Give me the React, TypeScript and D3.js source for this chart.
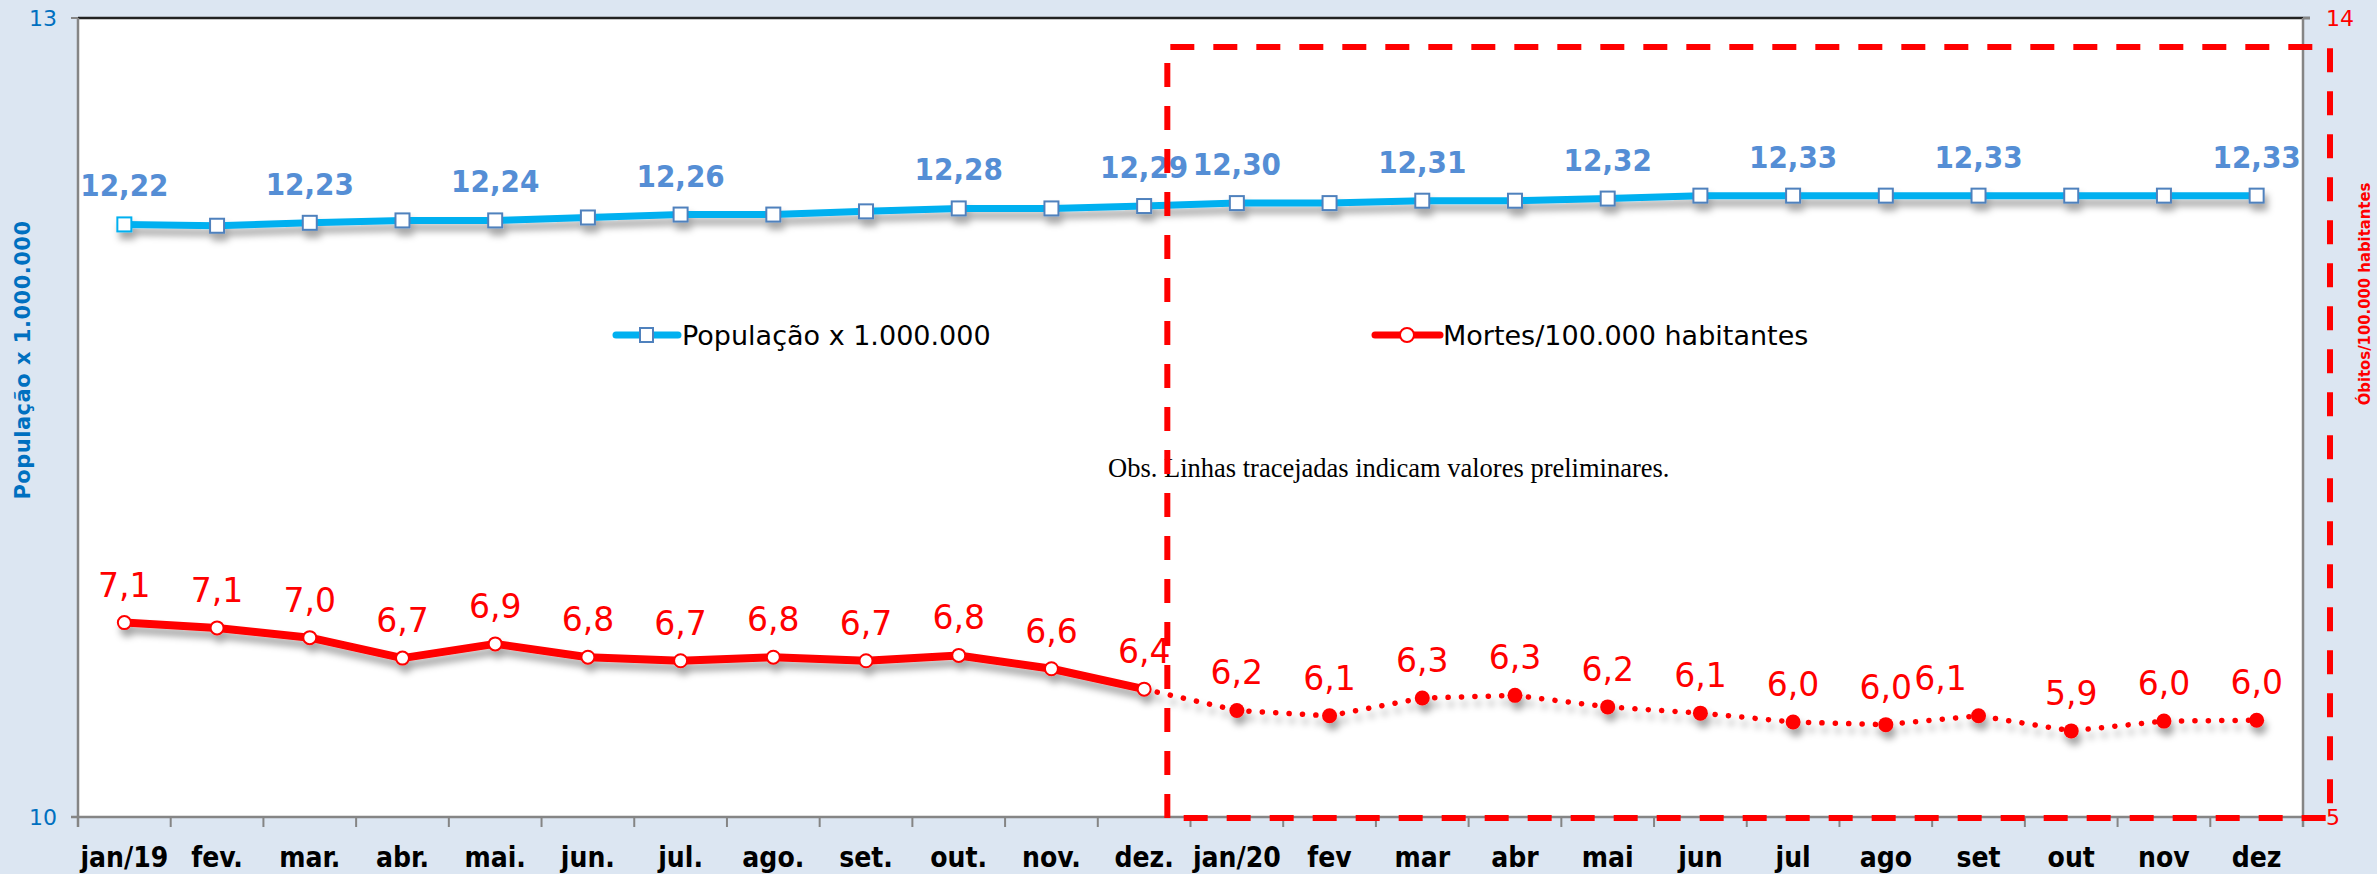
import React from 'react';
import * as d3 from 'd3';

const W = 2377;
const H = 874;

// categories (2019 with dots, 2020 without, as in the source)
const months = [
	'jan/19', 'fev.', 'mar.', 'abr.', 'mai.', 'jun.', 'jul.', 'ago.', 'set.', 'out.', 'nov.', 'dez.',
	'jan/20', 'fev', 'mar', 'abr', 'mai', 'jun', 'jul', 'ago', 'set', 'out', 'nov', 'dez',
];

// População x 1.000.000 (left axis)
const population = [
	12.225, 12.22, 12.231, 12.24, 12.24, 12.251, 12.262, 12.262, 12.274, 12.285, 12.285, 12.294,
	12.305, 12.305, 12.314, 12.314, 12.322, 12.333, 12.333, 12.333, 12.333, 12.333, 12.333, 12.333,
];
const populationLabels: (string | null)[] = [
	'12,22', null, '12,23', null, '12,24', null, '12,26', null, null, '12,28', null, '12,29',
	'12,30', null, '12,31', null, '12,32', null, '12,33', null, '12,33', null, null, '12,33',
];

// Mortes/100.000 habitantes (right axis)
const deaths = [
	7.19, 7.13, 7.02, 6.79, 6.95, 6.8, 6.76, 6.8, 6.76, 6.82, 6.67, 6.44,
	6.2, 6.14, 6.34, 6.37, 6.24, 6.17, 6.07, 6.04, 6.14, 5.97, 6.08, 6.09,
];
const deathLabels = [
	'7,1', '7,1', '7,0', '6,7', '6,9', '6,8', '6,7', '6,8', '6,7', '6,8', '6,6', '6,4',
	'6,2', '6,1', '6,3', '6,3', '6,2', '6,1', '6,0', '6,0', '6,1', '5,9', '6,0', '6,0',
];
// last finished month; after it the values are preliminary
const lastFinal = 11;

const leftTicks = [10, 13];
const rightTicks = [5, 14];

const bgBlue = '#dce6f2';
const cyan = '#00b0f0';
const markBlue = '#4f81bd';
const labelBlue = '#558ed5';
const axisBlue = '#0070c0';
const red = '#ff0000';
const grey = '#858585';

const condensed = '"DejaVu Sans Condensed", "DejaVu Sans", sans-serif';
const sans = '"DejaVu Sans", Verdana, sans-serif';

const App: React.FC = () => {
	const margin = { top: 18, right: 74, bottom: 57, left: 78 };
	const innerW = W - margin.left - margin.right;
	const plotBottom = H - margin.bottom;
	const plotRight = margin.left + innerW;

	const x = d3.scalePoint<string>().domain(months).range([margin.left, plotRight]).padding(0.5);
	const step = x.step();
	const yL = d3.scaleLinear().domain([10, 13]).range([plotBottom, margin.top]);
	const yR = d3.scaleLinear().domain([5, 14]).range([plotBottom, margin.top]);

	const popLine = d3
		.line<number>()
		.x((d, i) => x(months[i]) as number)
		.y((d) => yL(d));

	const deathLine = d3
		.line<[string, number]>()
		.x((d) => x(d[0]) as number)
		.y((d) => yR(d[1]));

	const pairs: [string, number][] = months.map((m, i) => [m, deaths[i]]);
	const solidPart = pairs.slice(0, lastFinal + 1);
	const dottedPart = pairs.slice(lastFinal);

	// label tweaks where Excel nudged a label sideways
	const labelShift: Record<string, number> = { set: -38 };

	// dashed box marking preliminary values
	const boxLeft = (x('dez.') as number) + step / 4;
	const boxTop = margin.top + 29;
	const boxRight = plotRight + 27;
	const boxBottom = plotBottom + 1;

	const bandEdges = d3.range(months.length + 1).map((i) => margin.left + i * step);

	return (
		<svg width={W} height={H} style={{ position: 'absolute', left: 0, top: 0 }}>
			<defs>
				<filter id="shadow" x="-5%" y="-20%" width="110%" height="160%">
					<feDropShadow dx="3" dy="7" stdDeviation="3.5" floodColor="#000" floodOpacity="0.35" />
				</filter>
			</defs>
			<rect x={0} y={0} width={W} height={H} fill={bgBlue} />
			<rect x={margin.left} y={margin.top} width={innerW} height={plotBottom - margin.top} fill="#fff" />

			{/* axes */}
			<line x1={margin.left} x2={plotRight + 7} y1={margin.top} y2={margin.top} stroke="#222" strokeWidth={2.5} />
			<line x1={margin.left} x2={margin.left} y1={margin.top} y2={plotBottom + 10} stroke={grey} strokeWidth={2.5} />
			<line x1={plotRight} x2={plotRight} y1={margin.top} y2={plotBottom + 10} stroke={grey} strokeWidth={2.5} />
			<line x1={margin.left - 7} x2={plotRight + 7} y1={plotBottom} y2={plotBottom} stroke={grey} strokeWidth={2.5} />
			{bandEdges.map((bx, i) => (
				<line key={'t' + i} x1={bx} x2={bx} y1={plotBottom} y2={plotBottom + 10} stroke={grey} strokeWidth={2} />
			))}
			{leftTicks.map((t) => (
				<g key={'l' + t}>
					<line x1={margin.left - 7} x2={margin.left} y1={yL(t)} y2={yL(t)} stroke={grey} strokeWidth={2} />
					<text x={57} y={yL(t) + 8} textAnchor="end" fontFamily={sans} fontSize={22} fill={axisBlue}>
						{t}
					</text>
				</g>
			))}
			{rightTicks.map((t) => (
				<g key={'r' + t}>
					<line x1={plotRight} x2={plotRight + 7} y1={yR(t)} y2={yR(t)} stroke={grey} strokeWidth={2} />
					<text x={2326} y={yR(t) + 8} textAnchor="start" fontFamily={sans} fontSize={22} fill={red}>
						{t}
					</text>
				</g>
			))}
			{months.map((m) => (
				<text
					key={'x' + m}
					x={x(m)}
					y={867}
					textAnchor="middle"
					fontFamily={condensed}
					fontStretch="condensed"
					fontWeight="bold"
					fontSize={28}
					fill="#000"
				>
					{m}
				</text>
			))}
			<text
				transform={`translate(30,360) rotate(-90)`}
				textAnchor="middle"
				fontFamily={sans}
				fontWeight="bold"
				fontSize={21}
				letterSpacing={0.5}
				fill={axisBlue}
			>
				População x 1.000.000
			</text>
			<text
				transform={`translate(2370,294) rotate(-90)`}
				textAnchor="middle"
				fontFamily={condensed}
				fontStretch="condensed"
				fontWeight="bold"
				fontSize={16.5}
				fill={red}
			>
				Óbitos/100.000 habitantes
			</text>

			{/* series */}
			<g filter="url(#shadow)">
				<path d={popLine(population) as string} fill="none" stroke={cyan} strokeWidth={7} />
				{population.map((v, i) => (
					<rect
						key={'pm' + i}
						x={(x(months[i]) as number) - 7}
						y={yL(v) - 7}
						width={14}
						height={14}
						fill="#fff"
						stroke={i === 0 ? cyan : markBlue}
						strokeWidth={2}
					/>
				))}
				<path d={deathLine(solidPart) as string} fill="none" stroke={red} strokeWidth={8} strokeLinejoin="round" />
				<path
					d={deathLine(dottedPart) as string}
					fill="none"
					stroke={red}
					strokeWidth={5.5}
					strokeLinecap="round"
					strokeDasharray="0.1 13.3"
				/>
				{pairs.map(([m, v], i) =>
					i <= lastFinal ? (
						<circle key={'dm' + i} cx={x(m)} cy={yR(v)} r={6.5} fill="#fff" stroke={red} strokeWidth={2} />
					) : (
						<circle key={'dm' + i} cx={x(m)} cy={yR(v)} r={7.5} fill={red} />
					)
				)}
			</g>

			{/* data labels */}
			{populationLabels.map((lab, i) =>
				lab ? (
					<text
						key={'pl' + i}
						x={x(months[i])}
						y={yL(population[i]) - 28}
						textAnchor="middle"
						fontFamily={condensed}
						fontStretch="condensed"
						fontWeight="bold"
						fontSize={31}
						fill={labelBlue}
					>
						{lab}
					</text>
				) : null
			)}
			{deathLabels.map((lab, i) => (
				<text
					key={'dl' + i}
					x={(x(months[i]) as number) + (labelShift[months[i]] || 0)}
					y={yR(deaths[i]) - 26}
					textAnchor="middle"
					fontFamily={sans}
					fontSize={33}
					fill={red}
				>
					{lab}
				</text>
			))}

			{/* legend */}
			<g>
				<line x1={616} x2={678} y1={335} y2={335} stroke={cyan} strokeWidth={7} strokeLinecap="round" />
				<rect x={640} y={328} width={13} height={14} fill="#fff" stroke={markBlue} strokeWidth={2} />
				<text x={682} y={345} fontFamily={sans} fontSize={27} fill="#000">
					População x 1.000.000
				</text>
				<line x1={1375} x2={1440} y1={335} y2={335} stroke={red} strokeWidth={7} strokeLinecap="round" />
				<circle cx={1407} cy={335} r={7} fill="#fff" stroke={red} strokeWidth={2} />
				<text x={1443} y={345} fontFamily={sans} fontSize={27} fill="#000">
					Mortes/100.000 habitantes
				</text>
			</g>

			<text x={1108} y={477} fontFamily='"Liberation Serif", "Times New Roman", serif' fontSize={26.5} fill="#000">
				Obs. Linhas tracejadas indicam valores preliminares.
			</text>

			<path
				d={`M${boxLeft},${boxBottom} V${boxTop} H${boxRight} V${boxBottom} Z`}
				fill="none"
				stroke={red}
				strokeWidth={6}
				strokeDasharray="24 19"
			/>
		</svg>
	);
};

export default App;
